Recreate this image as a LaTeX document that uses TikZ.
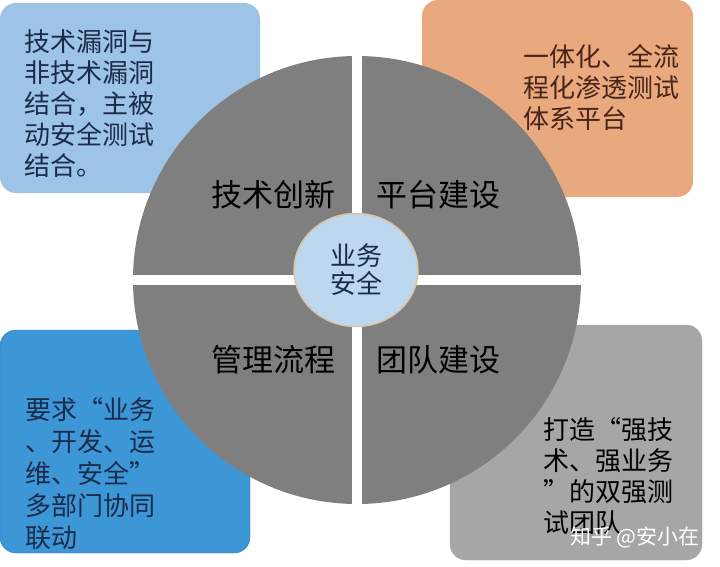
\documentclass[tikz,border=0pt]{standalone}
\usepackage{fontspec}
\setmainfont{Noto Sans CJK SC}
\usepackage{xcolor}
\usetikzlibrary{shapes.geometric}

\definecolor{techfill}{HTML}{9DC3E6}
\definecolor{platfill}{HTML}{E8A97E}
\definecolor{mgmtfill}{HTML}{3D97D7}
\definecolor{mgmtedge}{HTML}{2F6FA8}
\definecolor{teamfill}{HTML}{A6A6A6}
\definecolor{ringgray}{HTML}{7F7F7F}
\definecolor{corefill}{HTML}{BDD7EE}
\definecolor{coreedge}{HTML}{D8C4A8}
\definecolor{navytext}{HTML}{1B2B4B}
\definecolor{browntext}{HTML}{4A2418}

\tikzset{
  boxtext/.style={anchor=north west, align=left, inner sep=0pt, font=\fontsize{26}{31}\selectfont},
  quadlabel/.style={inner sep=0pt, text=black, font=\fontsize{31}{36}\selectfont}
}

\begin{document}
\begin{tikzpicture}[x=1pt, y=-1pt]
  \useasboundingbox (0,0) rectangle (720,567);

  % Corner boxes
  \fill[techfill, rounded corners=16pt] (0,3) rectangle (260,193);
  \fill[platfill, rounded corners=16pt] (422,0) rectangle (693,197);
  \draw[mgmtedge, fill=mgmtfill, rounded corners=16pt] (0,330) rectangle (250,553);
  \draw[gray!70, fill=teamfill, rounded corners=16pt] (450,325) rectangle (702,560);

  \node[boxtext, text=navytext] (techtext) at (24,29) {技术漏洞与\\非技术漏洞\\结合，主被\\动安全测试\\结合。};
  \node[boxtext, text=browntext] (plattext) at (523,44) {一体化、全流\\程化渗透测试\\体系平台};
  \node[boxtext, text=navytext, font=\fontsize{26}{32}\selectfont] (mgmttext) at (25,397) {要求“业务\\、开发、运\\维、安全”\\多部门协同\\联动};
  \node[boxtext, text=black] (teamtext) at (543,417) {打造“强技\\术、强业务\\”的双强测\\试团队};

  % Ring in four parts
  \fill[ringgray] (357,280) circle (224);
  \draw[white, line width=9.5pt] (357,50) -- (357,510);
  \draw[white, line width=10pt] (127,280) -- (587,280);

  \node[quadlabel] (tech) at (273,195) {技术创新};
  \node[quadlabel] (plat) at (438,195) {平台建设};
  \node[quadlabel] (mgmt) at (273,360) {管理流程};
  \node[quadlabel] (team) at (438,360) {团队建设};

  % Core
  \node[ellipse, draw=coreedge, line width=1.5pt, fill=corefill, minimum width=124pt, minimum height=113pt, inner sep=0pt,
        align=center, text=navytext, font=\fontsize{26}{28}\selectfont] (core) at (356,270) {业务\\安全};

  % Watermark
  \node[anchor=west, inner sep=0pt, text=white, font=\fontsize{21}{24}\selectfont] (mark) at (570,537) {知乎 @安小在};
\end{tikzpicture}
\end{document}
